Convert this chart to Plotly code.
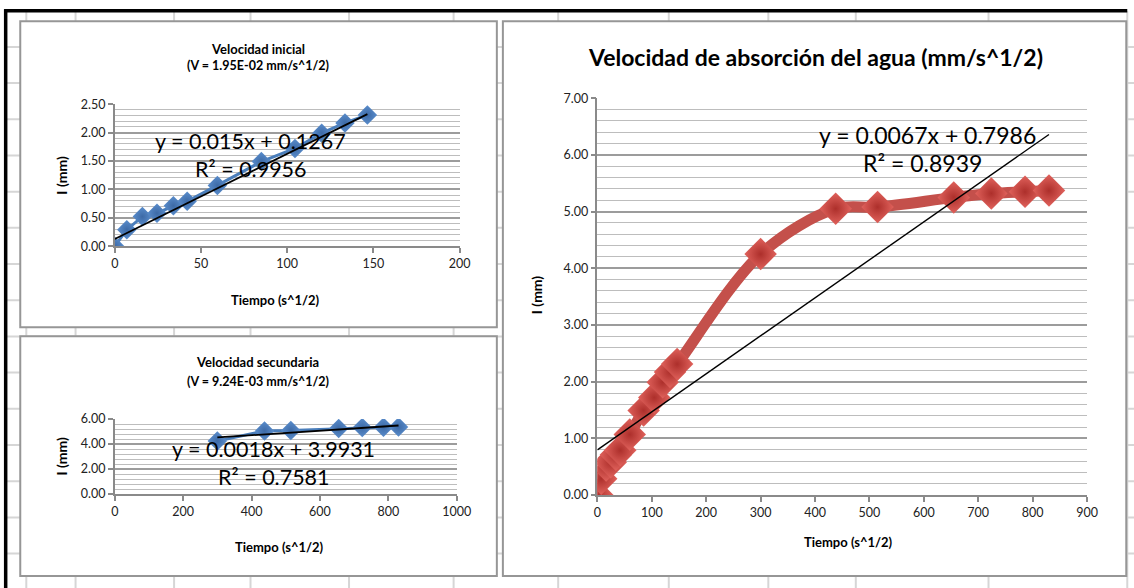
import plotly.graph_objects as go

# target picture size, the viewer's down-scaling and the page's body margin
W, H = 1134, 588
KX, KY = 0.979, 0.975
PAD = 8
FW = round(W / KX) - PAD
FH = round(H / KY) - PAD

# --- data -----------------------------------------------------------------
# early readings (tiempo in s^1/2, absorción I in mm)
t_ini = [0, 7, 16, 24.5, 34, 42, 59.5, 85, 104.5, 120, 133.5, 146.5]
i_ini = [0.00, 0.29, 0.52, 0.58, 0.71, 0.79, 1.07, 1.49, 1.72, 1.99, 2.17, 2.31]

# later readings
t_sec = [300, 438, 515, 655, 724, 786, 830]
i_sec = [4.25, 5.05, 5.08, 5.25, 5.32, 5.35, 5.37]

# all readings together
t_all = t_ini + t_sec
i_all = i_ini + i_sec

# linear trend coefficients (slope, intercept) and R²
fit_ini = (0.015, 0.1267, 0.9956)
fit_sec = (0.0018, 3.9931, 0.7581)
fit_all = (0.0067, 0.7986, 0.8939)

title_ini = ["Velocidad inicial", "(V = 1.95E-02 mm/s^1/2)"]
title_sec = ["Velocidad secundaria", "(V = 9.24E-03 mm/s^1/2)"]
title_all = "Velocidad de absorción del agua (mm/s^1/2)"
x_title = "Tiempo (s^1/2)"
y_title = "I (mm)"

FONT = "Lato"
BLUE = "#4a7ebb"
RED = "#c4504b"


def fx(p):
    """screen x pixel -> paper fraction"""
    return (p / KX - PAD) / FW


def fy(p):
    """screen y pixel (from top) -> paper fraction"""
    return 1 - (p / KY - PAD) / FH


def px_x(a, b):
    return [fx(a), fx(b)]


def px_y(top, bottom):
    return [fy(bottom), fy(top)]


def trend(fit, x0, x1):
    m, b, _ = fit
    return [x0, x1], [m * x0 + b, m * x1 + b]


fig = go.Figure()

blue_marker = dict(symbol="diamond", size=15, color="#5a8dcc",
                   gradient=dict(type="radial", color="#3d6aa6"), line=dict(width=0))

# top-left chart
fig.add_trace(go.Scatter(
    x=t_ini, y=i_ini, mode="lines+markers", xaxis="x", yaxis="y",
    line=dict(color=BLUE, width=3), marker=blue_marker,
    showlegend=False, hoverinfo="skip"))
tx, ty = trend(fit_ini, min(t_ini), max(t_ini))
fig.add_trace(go.Scatter(x=tx, y=ty, mode="lines", xaxis="x", yaxis="y",
                         line=dict(color="black", width=1.8), showlegend=False))

# bottom-left chart
fig.add_trace(go.Scatter(
    x=t_sec, y=i_sec, mode="lines+markers", xaxis="x2", yaxis="y2",
    line=dict(color=BLUE, width=3), marker=blue_marker,
    showlegend=False, hoverinfo="skip"))
tx, ty = trend(fit_sec, min(t_sec), max(t_sec))
fig.add_trace(go.Scatter(x=tx, y=ty, mode="lines", xaxis="x2", yaxis="y2",
                         line=dict(color="black", width=1.8), showlegend=False))

# main chart
fig.add_trace(go.Scatter(
    x=t_all, y=i_all, mode="lines+markers", xaxis="x3", yaxis="y3",
    line=dict(color=RED, width=11, shape="spline", smoothing=1.0),
    marker=dict(symbol="diamond", size=25, color="#e0625c",
                gradient=dict(type="radial", color="#ad2f2b"), line=dict(width=0)),
    showlegend=False, hoverinfo="skip"))
tx, ty = trend(fit_all, min(t_all), max(t_all))
fig.add_trace(go.Scatter(x=tx, y=ty, mode="lines", xaxis="x3", yaxis="y3",
                         line=dict(color="black", width=1.4), showlegend=False))


def xax(dom, rng, dtick):
    return dict(domain=dom, range=rng, dtick=dtick, tick0=0, showgrid=False,
                zeroline=False, showline=True, linecolor="#8a8a8a", linewidth=1.5,
                ticks="outside", ticklen=5, tickcolor="#8a8a8a", tickwidth=1.5,
                tickfont=dict(family=FONT, size=12.5, color="#222"), fixedrange=True)


def yax(dom, rng, dtick, minor, anchor):
    return dict(domain=dom, range=rng, dtick=dtick, tick0=0, tickformat=".2f",
                showgrid=True, gridcolor="#9c9c9c", gridwidth=1.6,
                minor=dict(dtick=minor, showgrid=True, gridcolor="#bdbdbd", gridwidth=1.2),
                zeroline=False, showline=True, linecolor="#8a8a8a", linewidth=1.5,
                ticks="outside", ticklen=5, tickcolor="#8a8a8a", tickwidth=1.5,
                tickfont=dict(family=FONT, size=12.5, color="#222"),
                anchor=anchor, fixedrange=True)


layout = dict(
    width=FW, height=FH, margin=dict(l=0, r=0, t=0, b=0),
    paper_bgcolor="white", plot_bgcolor="rgba(0,0,0,0)",
    xaxis=xax(px_x(118, 461), [0, 200], 50) | dict(anchor="y"),
    yaxis=yax(px_y(104, 246), [0, 2.5], 0.5, 0.1, "x"),
    xaxis2=xax(px_x(118, 458), [0, 1000], 200) | dict(anchor="y2"),
    yaxis2=yax(px_y(419, 494), [0, 6], 2, 0.4, "x2"),
    xaxis3=xax(px_x(598, 1085), [0, 900], 100) | dict(anchor="y3"),
    yaxis3=yax(px_y(98, 495), [0, 7], 1, 0.2, "x3"),
)
fig.update_layout(**layout)

# spreadsheet cells behind the charts, then the chart frames
shapes = []
grid_cols = [30, 79, 177, 253, 351, 455, 559, 669, 768, 855, 987, 1125]
grid_rows = [46.7 + 36.2 * k for k in range(15)]
for gx in grid_cols:
    shapes.append(dict(type="line", xref="paper", yref="paper", x0=fx(gx), x1=fx(gx),
                       y0=fy(H + 10), y1=fy(11), line=dict(color="#d6d6d6", width=2),
                       layer="below"))
for gy in grid_rows:
    shapes.append(dict(type="line", xref="paper", yref="paper", x0=fx(10), x1=fx(W + 10),
                       y0=fy(gy), y1=fy(gy), line=dict(color="#d6d6d6", width=2),
                       layer="below"))
for (x0, y0, x1, y1) in [(24, 21, 498, 327), (24, 336, 498, 576), (504, 21, 1124, 576)]:
    shapes.append(dict(type="rect", xref="paper", yref="paper", x0=fx(x0), x1=fx(x1),
                       y0=fy(y1), y1=fy(y0), fillcolor="white",
                       line=dict(color="#969696", width=2), layer="below"))
# heavy sheet borders
shapes.append(dict(type="line", xref="paper", yref="paper", x0=fx(8), x1=fx(1125),
                   y0=fy(10.5), y1=fy(10.5), line=dict(color="black", width=3.5)))
shapes.append(dict(type="line", xref="paper", yref="paper", x0=fx(9.5), x1=fx(9.5),
                   y0=fy(H + 10), y1=fy(9), line=dict(color="black", width=3.5)))
fig.update_layout(shapes=shapes)


def note(text, x, y, size, bold=False, angle=0, color="black"):
    if bold:
        text = f"<b>{text}</b>"
    return dict(text=text, x=fx(x), y=fy(y), xref="paper", yref="paper",
                showarrow=False, textangle=angle, xanchor="center", yanchor="middle",
                font=dict(family=FONT, size=size, color=color))


ann = [
    note(title_ini[0], 260, 49, 13, True),
    note(title_ini[1], 260, 65, 12.5, True),
    note(title_sec[0], 260, 362, 13, True),
    note(title_sec[1], 260, 381, 12.5, True),
    note(title_all, 815, 57, 23, True),
    note(x_title, 278, 300, 13, True),
    note(x_title, 282, 547, 13, True),
    note(x_title, 848, 542, 13, True),
    note(y_title, 65, 175, 14, True, -90),
    note(y_title, 65, 456, 14, True, -90),
    note(y_title, 537, 295, 14, True, -90),
    note(f"y = {fit_ini[0]}x + {fit_ini[1]}", 253, 141, 21.5),
    note(f"R² = {fit_ini[2]}", 253, 169, 21.5),
    note(f"y = {fit_sec[0]}x + {fit_sec[1]}", 276, 449, 21.5),
    note(f"R² = {fit_sec[2]}", 276, 477, 21.5),
    note(f"y = {fit_all[0]}x + {fit_all[1]}", 926, 135, 23),
    note(f"R² = {fit_all[2]}", 921, 163, 23),
]
fig.update_layout(annotations=ann)

fig.write_html("out.html")
